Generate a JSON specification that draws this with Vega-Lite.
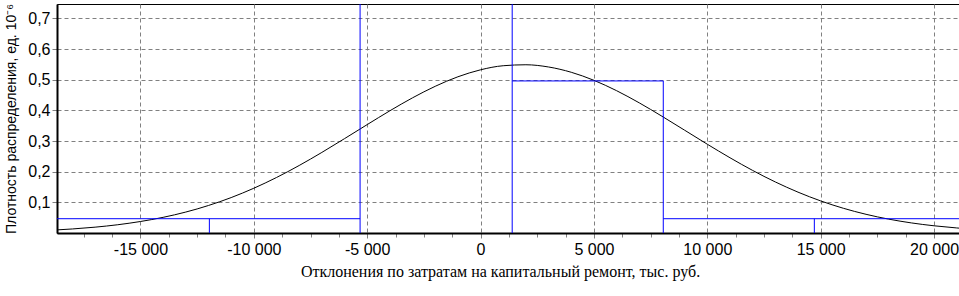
{
  "$schema": "https://vega.github.io/schema/vega-lite/v6.json",
  "width": 902,
  "height": 229,
  "autosize": {"type": "none"},
  "padding": {"left": 57, "top": 4, "right": 0, "bottom": 63},
  "background": "white",
  "config": {
    "view": {"stroke": "black", "strokeWidth": 1},
    "axis": {"labelOverlap": false, "labelFlush": false},
    "axisX": {"titleFont": "serif"},
    "locale": {"number": {"decimal": ",", "thousands": " ", "grouping": [3], "currency": ["", ""], "minus": "-"}}
  },
  "datasets": {
    "curve": [
      {"x": -18680, "y": 0.01016}, {"x": -18000, "y": 0.01318}, {"x": -17000, "y": 0.01903},
      {"x": -16000, "y": 0.02696}, {"x": -15000, "y": 0.03747}, {"x": -14000, "y": 0.05108},
      {"x": -13000, "y": 0.06834}, {"x": -12000, "y": 0.08971}, {"x": -11000, "y": 0.11553},
      {"x": -10000, "y": 0.14601}, {"x": -9000, "y": 0.18101}, {"x": -8000, "y": 0.2202},
      {"x": -7000, "y": 0.26282}, {"x": -6000, "y": 0.30778}, {"x": -5000, "y": 0.35361},
      {"x": -4000, "y": 0.39866}, {"x": -3000, "y": 0.44094}, {"x": -2000, "y": 0.47854},
      {"x": -1000, "y": 0.50954}, {"x": 0, "y": 0.53234}, {"x": 1000, "y": 0.54567},
      {"x": 2000, "y": 0.54879}, {"x": 3000, "y": 0.54153}, {"x": 4000, "y": 0.5243},
      {"x": 5000, "y": 0.49804}, {"x": 6000, "y": 0.46419}, {"x": 7000, "y": 0.42448},
      {"x": 8000, "y": 0.38085}, {"x": 9000, "y": 0.33529}, {"x": 10000, "y": 0.28959},
      {"x": 11000, "y": 0.24542}, {"x": 12000, "y": 0.20406}, {"x": 13000, "y": 0.16648},
      {"x": 14000, "y": 0.13325}, {"x": 15000, "y": 0.10466}, {"x": 16000, "y": 0.08065},
      {"x": 17000, "y": 0.06097}, {"x": 18000, "y": 0.04522}, {"x": 19000, "y": 0.03291},
      {"x": 20000, "y": 0.0235}, {"x": 21000, "y": 0.01647}, {"x": 21100, "y": 0.01588}
    ],
    "segments": [
      {"x": -18680, "xe": -5313, "y": 0.0466, "ye": 0.0466},
      {"x": 1395, "xe": 8058, "y": 0.496, "ye": 0.496},
      {"x": 8058, "xe": 21100, "y": 0.0466, "ye": 0.0466},
      {"x": -11960, "xe": -11960, "y": 0, "ye": 0.0466},
      {"x": 8058, "xe": 8058, "y": 0, "ye": 0.496},
      {"x": 14720, "xe": 14720, "y": 0, "ye": 0.0466}
    ],
    "bounds": [{"x": -5313, "y": 0, "ye": 0.747}, {"x": 1395, "y": 0, "ye": 0.747}]
  },
  "encoding": {
    "x": {
      "field": "x", "type": "quantitative",
      "scale": {"domain": [-18680, 21100], "nice": false, "zero": false},
      "axis": {
        "title": "Отклонения по затратам на капитальный ремонт, тыс. руб.",
        "titleFont": "Times New Roman", "titleFontSize": 16, "titleFontWeight": "normal", "titleColor": "black", "titlePadding": 6, "titleX": 443,
        "values": [-17500, -16250, -15000, -13750, -12500, -11250, -10000, -8750, -7500, -6250, -5000, -3750, -2500, -1250, 0, 1250, 2500, 3750, 5000, 6250, 7500, 8750, 10000, 11250, 12500, 13750, 15000, 16250, 17500, 18750, 20000],
        "format": ",d",
        "labelExpr": "datum.value % 5000 === 0 ? datum.label : ''",
        "labelFont": "Liberation Sans", "labelFontSize": 16, "labelColor": "black", "labelPadding": 3, "labelFlush": false, "labelOverlap": false,
        "grid": true, "gridColor": "#808080", "gridDash": [4, 3], "gridWidth": 1,
        "gridOpacity": {"condition": {"test": "datum.value % 5000 !== 0", "value": 0}, "value": 1},
        "ticks": true, "tickColor": "#808080",
        "tickSize": {"condition": {"test": "datum.value % 5000 !== 0", "value": 4}, "value": 5},
        "domain": true, "domainColor": "black", "domainWidth": 2
      }
    },
    "y": {
      "field": "y", "type": "quantitative",
      "scale": {"domain": [0, 0.747], "nice": false},
      "axis": {
        "title": "Плотность распределения, ед. 10⁻⁶",
        "titleFont": "Liberation Sans", "titleFontSize": 14, "titleFontWeight": "normal", "titleColor": "black", "titlePadding": 9,
        "values": [0.1, 0.2, 0.3, 0.4, 0.5, 0.6, 0.7],
        "format": ".1f",
        "labelFont": "Liberation Sans", "labelFontSize": 16, "labelColor": "black", "labelPadding": 2, "labelOverlap": false, "labelFlush": false,
        "grid": true, "gridColor": "#808080", "gridDash": [4, 3], "gridWidth": 1,
        "ticks": true, "tickColor": "#808080", "tickSize": 5,
        "domain": true, "domainColor": "black", "domainWidth": 2
      }
    }
  },
  "layer": [
    {
      "data": {"name": "curve"},
      "mark": {"type": "line", "color": "black", "strokeWidth": 1, "interpolate": "monotone", "clip": true}
    },
    {
      "data": {"name": "segments"},
      "mark": {"type": "rule", "color": "#0000ff", "strokeWidth": 1, "clip": true},
      "encoding": {"x2": {"field": "xe"}, "y2": {"field": "ye"}}
    },
    {
      "data": {"name": "bounds"},
      "mark": {"type": "rule", "color": "#0000ff", "strokeWidth": 1},
      "encoding": {"y2": {"field": "ye"}}
    }
  ]
}
